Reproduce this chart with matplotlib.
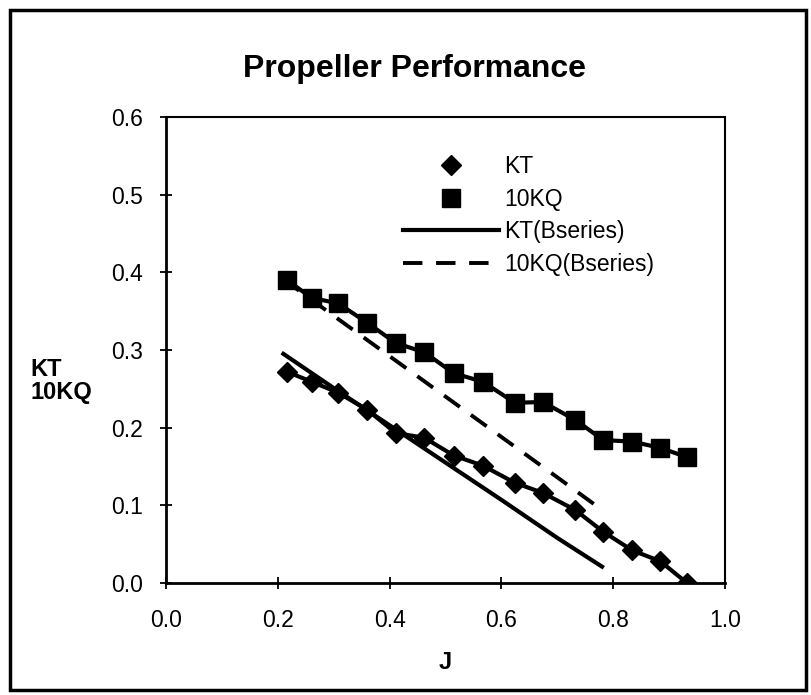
import matplotlib
matplotlib.use("Agg")
import matplotlib.pyplot as plt
from matplotlib.patches import Rectangle

plt.rcParams['font.family'] = ['Liberation Sans', 'DejaVu Sans']

# measured points
J = [0.216, 0.261, 0.308, 0.360, 0.411, 0.462, 0.515, 0.567, 0.624, 0.674, 0.732, 0.782, 0.834, 0.884, 0.932]
kt = [0.272, 0.259, 0.245, 0.223, 0.193, 0.187, 0.164, 0.151, 0.129, 0.116, 0.094, 0.066, 0.042, 0.028, 0.0]
kq10 = [0.390, 0.367, 0.360, 0.335, 0.309, 0.297, 0.270, 0.259, 0.232, 0.233, 0.210, 0.184, 0.182, 0.174, 0.162]

# B-series prediction
J_b = [0.21, 0.30, 0.40, 0.50, 0.60, 0.70, 0.78]
kt_b = [0.295, 0.251, 0.203, 0.155, 0.107, 0.058, 0.021]
kq10_b = [0.391, 0.344, 0.292, 0.240, 0.188, 0.136, 0.094]

fig = plt.figure(figsize=(8.12, 6.95), dpi=100)
ax = fig.add_axes([0.2044, 0.1612, 0.6885, 0.6705])

# outer frame
fig.patches.append(Rectangle((0.012, 0.007), 0.980, 0.979, transform=fig.transFigure,
                             fill=False, edgecolor='black', linewidth=2.5))

# lines joining the measured points (not in legend)
ax.plot(J, kt, color='black', lw=3)
ax.plot(J, kq10, color='black', lw=3)
ax.plot(J, kt, ls='none', color='black', marker='D', markersize=10, label='KT')
ax.plot(J, kq10, ls='none', color='black', marker='s', markersize=13, label='10KQ')
ax.plot(J_b, kt_b, color='black', lw=3, label='KT(Bseries)')
ax.plot(J_b, kq10_b, color='black', lw=2.8, dashes=(5, 3.5), label='10KQ(Bseries)')

ax.set_xlim(0, 1.0)
ax.set_ylim(0, 0.6)
ax.set_xticks([0.0, 0.2, 0.4, 0.6, 0.8, 1.0])
ax.set_yticks([0.0, 0.1, 0.2, 0.3, 0.4, 0.5, 0.6])
ax.xaxis.set_major_formatter(matplotlib.ticker.FormatStrFormatter('%.1f'))
ax.yaxis.set_major_formatter(matplotlib.ticker.FormatStrFormatter('%.1f'))
ax.tick_params(direction='inout', length=9, width=1.3, labelsize=16.5, pad=12)
ax.tick_params(axis='x', pad=14)

for s in ['left', 'bottom']:
    ax.spines[s].set_linewidth(2)
ax.spines['top'].set_linewidth(1.5)
ax.spines['right'].set_linewidth(1.5)
ax.spines['right'].set_linestyle((0, (1, 1)))

ax.set_xlabel('J', fontsize=17, fontweight='bold', labelpad=14)
fig.text(0.038, 0.452, 'KT\n10KQ', fontsize=17, fontweight='bold', ha='left', va='center',
         linespacing=1.0)
fig.text(0.51, 0.9, 'Propeller Performance', fontsize=23, fontweight='bold',
         ha='center', va='center')

leg = ax.legend(loc='upper left', bbox_to_anchor=(0.424, 0.918), frameon=False,
                fontsize=16.5, handlelength=4.2, handletextpad=0.2, labelspacing=0.42,
                borderpad=0, borderaxespad=0, numpoints=1)

fig.savefig('out.png', dpi=100)
